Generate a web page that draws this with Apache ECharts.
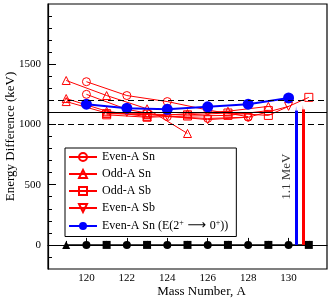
<!DOCTYPE html>
<html><head><meta charset="utf-8">
<script src="https://cdn.jsdelivr.net/npm/echarts@6/dist/echarts.min.js"></script>
<style>html,body{margin:0;padding:0;background:#fff}#c{width:332px;height:300px}</style>
</head><body><div id="c"></div><script>
// ---- data ----
const evenSnMass = [120,122,124,126,128];
const evenSnDiffA = [1355,1240,1190,1120,1065];
const evenSnDiffB = [1250,1125,1065,1050,1060];
const oddSnMassA = [119,121,123,125];
const oddSnDiffA = [1365,1240,1130,925];
const oddSnMassB = [119,121,123,125,127,129];
const oddSnDiffB = [1215,1110,1065,1090,1110,1150];
const oddSnMassC = [119,121,123];
const oddSnDiffC = [1190,1095,1080];
const oddSbMassA = [121,123,125,127,129,131];
const oddSbDiffA = [1090,1085,1080,1095,1075,1225];
const oddSbMassB = [121,123,125,127,129];
const oddSbDiffB = [1080,1060,1070,1075,1115];
const evenSbMass = [122,124,126,128,130];
const evenSbDiff = [1100,1070,1040,1060,1150];
const blueMass = [120,122,124,126,128,130];
const blueDiff = [1168,1135,1126,1146,1168,1220];
const zeroMass = [119,120,121,122,123,124,125,126,127,128,129,130,131];
const zeroDiff = [0,0,0,0,0,0,0,0,0,0,0,0,0];
const zeroShapes = ['triangle','circle','rect','circle','rect','circle','rect','circle','rect','circle','rect','circle','rect'];
const refLevels = [1000,1100,1200];
const arrowMass = [130.37,130.71];
const arrowTop = [1115,1125];
const noteMass = [129.88];
const noteDiff = [567];
const noteText = ['1.1 MeV'];
const xTickMinor = [119,120,121,122,123,124,125,126,127,128,129,130,131];
const xTickMajor = [120,122,124,126,128,130];
const xLabels = [120,122,124,126,128,130];
const yTickMinor = [-100,0,100,200,300,400,500,600,700,800,900,1000,1100,1200,1300,1400,1500,1600,1700,1800,1900];
const yTickMajor = [0,500,1000,1500];
const yLabels = [0,500,1000,1500];
const names = ['Even-A Sn','Odd-A Sn','Odd-A Sb','Even-A Sb','Even-A Sn (E(2+→0+))'];

const F = 'Liberation Serif';
const RED = '#ff0000', BLUE = '#0000ff';
function pts(x,y){return x.map((v,i)=>[v,y[i]]);}
function redLine(name,x,y,symbol,rot){
  return {name,type:'line',data:pts(x,y),symbol,symbolRotate:rot||0,symbolSize:8,
    itemStyle:{color:'rgba(255,255,255,0)',borderColor:RED,borderWidth:1},
    lineStyle:{color:RED,width:1},z:3};
}
const series = [
  {type:'line',data:[],z:1,markLine:{silent:true,symbol:'none',animation:false,label:{show:false},
    data:refLevels.map(v=>({yAxis:v,lineStyle:{color:'#000',width:1.2,type:v===1100?'solid':[6,4]}}))}},
  redLine(names[0],evenSnMass,evenSnDiffA,'circle'),
  redLine(names[0],evenSnMass,evenSnDiffB,'circle'),
  redLine(names[1],oddSnMassA,oddSnDiffA,'triangle'),
  redLine(names[1],oddSnMassB,oddSnDiffB,'triangle'),
  redLine(names[1],oddSnMassC,oddSnDiffC,'triangle'),
  redLine(names[2],oddSbMassA,oddSbDiffA,'rect'),
  redLine(names[2],oddSbMassB,oddSbDiffB,'rect'),
  redLine(names[3],evenSbMass,evenSbDiff,'triangle',180),
  {name:names[4],type:'line',data:pts(blueMass,blueDiff),symbol:'circle',symbolSize:11,
    itemStyle:{color:BLUE},lineStyle:{color:BLUE,width:2},z:4},
  {type:'line',data:zeroMass.map((m,i)=>({value:[m,zeroDiff[i]],symbol:zeroShapes[i]})),
    symbolSize:8,itemStyle:{color:'#000'},lineStyle:{color:'#000',width:1.2},z:3},
  {type:'line',data:[],z:5,markLine:{silent:true,animation:false,symbol:['none','triangle'],symbolSize:[1,9],
    label:{show:false},
    data:arrowMass.map((m,i)=>[{coord:[m,0],lineStyle:{color:i===0?BLUE:RED,width:3,type:'solid'},itemStyle:{color:i===0?BLUE:RED}},{coord:[m,arrowTop[i]]}])}},
  {type:'scatter',data:pts(noteMass,noteDiff),symbolSize:1,itemStyle:{color:'rgba(0,0,0,0)'},z:5,
    label:{show:true,position:'inside',rotate:90,formatter:p=>noteText[p.dataIndex],fontFamily:F,fontSize:13,color:'#000'}}
];
const chart = echarts.init(document.getElementById('c'));
chart.setOption({
  animation:false,
  grid:{left:48,right:5,top:4,bottom:31,show:true,borderColor:'#000',borderWidth:1.2,backgroundColor:'rgba(0,0,0,0)',
    outerBoundsMode:'none',containLabel:false},
  legend:{data:names,left:65,top:148,orient:'vertical',padding:[3,8,4,3],itemGap:5,itemWidth:28,itemHeight:10,
    borderColor:'#000',borderWidth:1,backgroundColor:'#fff',
    formatter:n=>n===names[4]?'Even-A Sn (E(2{s|+}{a|⟶}0{s|+}))':n,
    textStyle:{fontFamily:F,fontSize:12,color:'#000',
      rich:{s:{fontFamily:F,fontSize:8,color:'#000',verticalAlign:'top',padding:[0,0,6,0]},
            a:{fontFamily:'DejaVu Sans',fontSize:13,color:'#000',width:26,align:'center'}}}},
  xAxis:[
    {type:'value',min:118.1,max:131.9,axisLine:{lineStyle:{color:'#000',width:1.2}},
     axisTick:{inside:true,length:4,customValues:xTickMinor,lineStyle:{color:'#000'}},
     axisLabel:{customValues:xLabels,fontFamily:F,fontSize:11,color:'#000',margin:4},
     splitLine:{show:false},name:'Mass Number, A',nameLocation:'middle',nameGap:16,nameMoveOverlap:false,
     nameTextStyle:{fontFamily:F,fontSize:13,color:'#000',padding:[0,0,0,28]}},
    {type:'value',min:118.1,max:131.9,position:'bottom',axisLine:{show:false},
     axisTick:{inside:true,length:7,customValues:xTickMajor,lineStyle:{color:'#000'}},
     axisLabel:{show:false},splitLine:{show:false}}
  ],
  yAxis:[
    {type:'value',min:-200,max:2000,axisLine:{show:true,lineStyle:{color:'#000',width:1.2}},
     axisTick:{show:true,inside:true,length:4,customValues:yTickMinor,lineStyle:{color:'#000'}},
     axisLabel:{customValues:yLabels,formatter:v=>String(v),fontFamily:F,fontSize:11,color:'#000',margin:7},
     splitLine:{show:false},name:'Energy Difference (keV)',nameLocation:'middle',nameGap:31,nameMoveOverlap:false,
     nameTextStyle:{fontFamily:F,fontSize:13,color:'#000'}},
    {type:'value',min:-200,max:2000,position:'left',axisLine:{show:false},
     axisTick:{show:true,inside:true,length:8,customValues:yTickMajor,lineStyle:{color:'#000'}},
     axisLabel:{show:false},splitLine:{show:false}}
  ],
  series
});
</script></body></html>
